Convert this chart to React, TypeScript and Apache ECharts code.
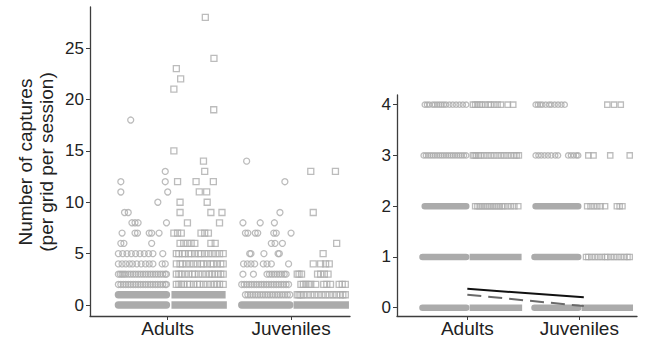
import { useEffect, useRef } from "react";
import * as echarts from "echarts";

// Categories on both x axes
const categories = ["Adults", "Juveniles"];
const countTicks = [0, 5, 10, 15, 20, 25];
const rateTicks = [0, 1, 2, 3, 4];

// Left panel: captures per grid per session.
// Rows: [count, horizontal jitter offsets from the category position]
const adultCircleRows: [number, number[]][] = [
  [18, [-0.3]],
  [13, [-0.02]],
  [12, [-0.38, -0.02]],
  [11, [-0.38, 0.0]],
  [10, [-0.08]],
  [9, [-0.35, -0.32]],
  [8, [-0.29, -0.265, -0.24, -0.01]],
  [7, [-0.37, -0.265, -0.245, -0.15, -0.13, -0.07]],
  [6, [-0.38, -0.355, -0.13]],
  [5, [-0.4, -0.365, -0.33, -0.295, -0.26, -0.225, -0.19, -0.155, -0.12, -0.04]],
  [4, [-0.4, -0.37, -0.34, -0.31, -0.285, -0.25, -0.215, -0.18, -0.15, -0.12, -0.045, -0.02]],
  [3, [-0.4, -0.385, -0.37, -0.355, -0.34, -0.32, -0.3, -0.28, -0.26, -0.24, -0.22, -0.2, -0.18, -0.16, -0.14, -0.12, -0.1, -0.08, -0.06, -0.04, -0.02, -0.01]],
  [2, [-0.4, -0.38, -0.36, -0.34, -0.32, -0.3, -0.28, -0.26, -0.24, -0.22, -0.2, -0.18, -0.16, -0.14, -0.12, -0.1, -0.08, -0.06, -0.04, -0.02, -0.01]],
];
// Runs of overlapping points that merge into a solid band: [count, from, to]
const adultCircleRuns: [number, number, number][] = [
  [1, -0.4, -0.01],
  [0, -0.4, -0.01],
];

const adultSquareRows: [number, number[]][] = [
  [28, [0.305]],
  [24, [0.375]],
  [23, [0.07]],
  [22, [0.105]],
  [21, [0.05]],
  [19, [0.373]],
  [15, [0.05]],
  [14, [0.29]],
  [13, [0.3]],
  [12, [0.08, 0.23, 0.37]],
  [11, [0.256, 0.316]],
  [10, [0.1, 0.32]],
  [9, [0.1, 0.35, 0.44]],
  [8, [0.16, 0.42]],
  [7, [0.05, 0.08, 0.11, 0.27, 0.3, 0.33]],
  [6, [0.1, 0.13, 0.16, 0.19, 0.22, 0.35, 0.385]],
  [5, [0.07, 0.09, 0.12, 0.14, 0.17, 0.19, 0.22, 0.25, 0.27, 0.3, 0.33, 0.36, 0.39, 0.42, 0.45]],
  [4, [0.07, 0.1, 0.12, 0.15, 0.18, 0.21, 0.24, 0.27, 0.29, 0.32, 0.35, 0.37, 0.4, 0.43, 0.45]],
  [3, [0.07, 0.09, 0.11, 0.14, 0.17, 0.2, 0.22, 0.25, 0.28, 0.31, 0.34, 0.36, 0.38, 0.41, 0.43, 0.45]],
  [2, [0.07, 0.09, 0.11, 0.13, 0.16, 0.18, 0.21, 0.24, 0.26, 0.29, 0.32, 0.35, 0.38, 0.4, 0.42, 0.45]],
];
const adultSquareRuns: [number, number, number][] = [
  [1, 0.06, 0.44],
  [0, 0.06, 0.45],
];

const juvCircleRows: [number, number[]][] = [
  [14, [-0.36]],
  [12, [-0.05]],
  [9, [-0.09]],
  [8, [-0.39, -0.25, -0.135]],
  [7, [-0.37, -0.35, -0.29, -0.27, -0.14, -0.12, 0.0]],
  [6, [-0.16, -0.13, -0.07]],
  [5, [-0.335, -0.325, -0.22, -0.105, -0.095]],
  [4, [-0.385, -0.355, -0.325, -0.295, -0.225, -0.195, -0.16, -0.02]],
  [3, [-0.39, -0.305, -0.195, -0.175, -0.155, -0.135, -0.115, -0.095, -0.075, -0.055, -0.04]],
  [2, [-0.4, -0.38, -0.36, -0.34, -0.32, -0.3, -0.28, -0.26, -0.24, -0.22, -0.2, -0.18, -0.16, -0.14, -0.12, -0.1, -0.08, -0.06, -0.04, -0.02]],
  [1, [-0.37, -0.35, -0.33, -0.31, -0.29, -0.27, -0.25, -0.23, -0.21, -0.19, -0.17, -0.15, -0.13, -0.11, -0.09, -0.07, -0.05, -0.03, -0.01]],
];
const juvCircleRuns: [number, number, number][] = [[0, -0.4, -0.01]];

const juvSquareRows: [number, number[]][] = [
  [13, [0.16, 0.36]],
  [9, [0.18]],
  [6, [0.37]],
  [5, [0.26]],
  [4, [0.18, 0.24, 0.28, 0.31]],
  [3, [0.05, 0.065, 0.085, 0.215, 0.24, 0.27, 0.3]],
  [2, [0.08, 0.1, 0.12, 0.14, 0.16, 0.2, 0.265, 0.29, 0.32, 0.39, 0.415, 0.44]],
  [1, [0.05, 0.065, 0.08, 0.1, 0.13, 0.16, 0.19, 0.22, 0.25, 0.28, 0.31, 0.34, 0.37, 0.4, 0.42, 0.44]],
];
const juvSquareRuns: [number, number, number][] = [[0, 0.05, 0.44]];

// Right panel: captures on the 0-4 scale
const rAdultCircleRows: [number, number[]][] = [
  [4, [-0.38, -0.36, -0.34, -0.31, -0.29, -0.27, -0.25, -0.23, -0.21, -0.19, -0.16, -0.13, -0.1, -0.07, -0.04, -0.01]],
  [3, [-0.39, -0.37, -0.35, -0.33, -0.31, -0.29, -0.27, -0.25, -0.23, -0.21, -0.19, -0.17, -0.15, -0.13, -0.11, -0.09, -0.07, -0.05, -0.03, -0.01]],
];
const rAdultCircleRuns: [number, number, number][] = [
  [2, -0.38, -0.01],
  [1, -0.4, -0.01],
  [0, -0.4, -0.01],
];

const rAdultSquareRows: [number, number[]][] = [
  [4, [0.05, 0.07, 0.09, 0.11, 0.13, 0.16, 0.19, 0.21, 0.24, 0.27, 0.3, 0.36, 0.41]],
  [3, [0.05, 0.065, 0.08, 0.1, 0.12, 0.15, 0.18, 0.21, 0.24, 0.27, 0.3, 0.33, 0.36, 0.39, 0.42, 0.44, 0.46]],
  [2, [0.07, 0.09, 0.11, 0.13, 0.15, 0.17, 0.19, 0.21, 0.23, 0.25, 0.27, 0.29, 0.31, 0.33, 0.36, 0.39, 0.42, 0.455]],
];
const rAdultSquareRuns: [number, number, number][] = [
  [1, 0.05, 0.455],
  [0, 0.05, 0.46],
];

const rJuvCircleRows: [number, number[]][] = [
  [4, [-0.39, -0.37, -0.35, -0.33, -0.3, -0.27, -0.25, -0.22, -0.19, -0.16, -0.13]],
  [3, [-0.39, -0.365, -0.34, -0.31, -0.28, -0.25, -0.215, -0.19, -0.1, -0.075, -0.05, -0.025, -0.01]],
];
const rJuvCircleRuns: [number, number, number][] = [
  [2, -0.39, -0.01],
  [1, -0.4, -0.01],
  [0, -0.4, -0.01],
];

const rJuvSquareRows: [number, number[]][] = [
  [4, [0.25, 0.31, 0.37]],
  [3, [0.08, 0.127, 0.276, 0.45]],
  [2, [0.07, 0.1, 0.13, 0.16, 0.19, 0.23, 0.335, 0.36, 0.385]],
  [1, [0.06, 0.08, 0.11, 0.14, 0.17, 0.2, 0.23, 0.25, 0.28, 0.31, 0.34, 0.37, 0.4, 0.43, 0.45]],
];
const rJuvSquareRuns: [number, number, number][] = [[0, 0.05, 0.45]];

// Fitted means, Adults -> Juveniles
const meanX = [1.0, 2.04];
const meanSolid = [0.374, 0.205];
const meanDashed = [0.256, 0.033];

const GRAY = "#ababab";
const AXIS = "#3d3d3d";
const TEXT = "#222222";
const FONT = "'Liberation Sans', Arial, Helvetica, sans-serif";

function toPoints(cat: number, rows: [number, number[]][]) {
  const pts: number[][] = [];
  rows.forEach(([count, offsets]) => offsets.forEach((o) => pts.push([cat + o, count])));
  return pts;
}

function toRuns(cat: number, runs: [number, number, number][]) {
  return runs.map(([count, a, b]) => [cat + a, cat + b, count]);
}

function scatter(grid: number, data: number[][], symbol: string, size: number) {
  return {
    type: "scatter",
    xAxisIndex: grid,
    yAxisIndex: grid,
    data,
    symbol,
    symbolSize: size,
    silent: true,
    itemStyle: { color: "rgba(255,255,255,0)", borderColor: GRAY, borderWidth: 1.3 },
  };
}

function band(grid: number, data: number[][], round: boolean, size: number) {
  return {
    type: "custom",
    xAxisIndex: grid,
    yAxisIndex: grid,
    data,
    encode: { x: [0, 1], y: 2 },
    clip: false,
    silent: true,
    renderItem: (_p: any, api: any) => {
      const a = api.coord([api.value(0), api.value(2)]);
      const b = api.coord([api.value(1), api.value(2)]);
      const h = size / 2;
      return {
        type: "rect",
        shape: { x: a[0] - h, y: a[1] - h, width: b[0] - a[0] + size, height: size, r: round ? h : 0 },
        style: { fill: GRAY },
      };
    },
  };
}

function xAxis(grid: number, min: number, max: number) {
  return {
    type: "value",
    gridIndex: grid,
    min,
    max,
    axisLine: { show: true, onZero: false, lineStyle: { color: AXIS, width: 1.3 } },
    axisTick: { show: true, customValues: [1, 2], length: 4, lineStyle: { color: AXIS, width: 1 } },
    axisLabel: {
      customValues: [1, 2],
      formatter: (v: number) => categories[Math.round(v) - 1],
      fontSize: 19,
      fontFamily: FONT,
      color: TEXT,
      margin: 3,
    },
    splitLine: { show: false },
  };
}

function yAxis(grid: number, min: number, max: number, ticks: number[]) {
  return {
    type: "value",
    gridIndex: grid,
    min,
    max,
    axisLine: { show: true, onZero: false, lineStyle: { color: AXIS, width: 1.3 } },
    axisTick: { show: true, customValues: ticks, length: 4, lineStyle: { color: AXIS, width: 1 } },
    axisLabel: {
      customValues: ticks,
      fontSize: 17,
      fontFamily: FONT,
      color: TEXT,
      margin: 6,
    },
    splitLine: { show: false },
  };
}

const L_SIZE = 6;
const R_SIZE = 5.3;

const option = {
  animation: false,
  backgroundColor: "#ffffff",
  grid: [
    { left: 90, top: 7, width: 260, height: 309 },
    { left: 397, top: 95, width: 240, height: 221 },
  ],
  xAxis: [xAxis(0, 0.37, 2.478), xAxis(1, 0.372, 2.515)],
  yAxis: [yAxis(0, -1.07, 29, countTicks), yAxis(1, -0.163, 4.19, rateTicks)],
  graphic: [
    {
      type: "text",
      x: 36,
      y: 162,
      rotation: Math.PI / 2,
      style: {
        text: "Number of captures\n(per grid per session)",
        font: `19px ${FONT}`,
        fill: TEXT,
        align: "center",
        verticalAlign: "middle",
        lineHeight: 21,
      },
    },
  ],
  series: [
    band(0, toRuns(1, adultCircleRuns), true, L_SIZE + 1.3),
    band(0, toRuns(1, adultSquareRuns), false, L_SIZE + 1.3),
    band(0, toRuns(2, juvCircleRuns), true, L_SIZE + 1.3),
    band(0, toRuns(2, juvSquareRuns), false, L_SIZE + 1.3),
    scatter(0, toPoints(1, adultCircleRows), "circle", L_SIZE),
    scatter(0, toPoints(1, adultSquareRows), "rect", L_SIZE),
    scatter(0, toPoints(2, juvCircleRows), "circle", L_SIZE),
    scatter(0, toPoints(2, juvSquareRows), "rect", L_SIZE),

    band(1, toRuns(1, rAdultCircleRuns), true, R_SIZE + 1.3),
    band(1, toRuns(1, rAdultSquareRuns), false, R_SIZE + 1.3),
    band(1, toRuns(2, rJuvCircleRuns), true, R_SIZE + 1.3),
    band(1, toRuns(2, rJuvSquareRuns), false, R_SIZE + 1.3),
    scatter(1, toPoints(1, rAdultCircleRows), "circle", R_SIZE),
    scatter(1, toPoints(1, rAdultSquareRows), "rect", R_SIZE),
    scatter(1, toPoints(2, rJuvCircleRows), "circle", R_SIZE),
    scatter(1, toPoints(2, rJuvSquareRows), "rect", R_SIZE),

    {
      type: "line",
      xAxisIndex: 1,
      yAxisIndex: 1,
      data: meanX.map((x, i) => [x, meanSolid[i]]),
      symbol: "none",
      silent: true,
      z: 5,
      lineStyle: { color: "#111111", width: 2 },
    },
    {
      type: "line",
      xAxisIndex: 1,
      yAxisIndex: 1,
      data: meanX.map((x, i) => [x, meanDashed[i]]),
      symbol: "none",
      silent: true,
      z: 5,
      lineStyle: { color: "#6a6a6a", width: 2, type: [14, 7] },
    },
  ],
};

export default function App() {
  const ref = useRef<HTMLDivElement>(null);
  useEffect(() => {
    const chart = echarts.init(ref.current!, null, { renderer: "svg" });
    chart.setOption(option as any);
    return () => chart.dispose();
  }, []);
  return (
    <div
      ref={ref}
      style={{ position: "absolute", left: 0, top: 0, width: 646, height: 343 }}
    />
  );
}
